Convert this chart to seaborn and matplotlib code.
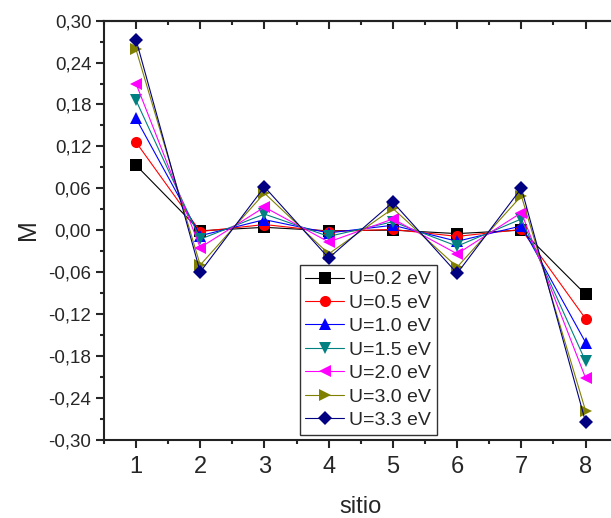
import numpy as np
import pandas as pd
import matplotlib
matplotlib.use("Agg")
import matplotlib.pyplot as plt
import seaborn as sns
from matplotlib.ticker import MultipleLocator, FuncFormatter

# sitios de la cadena
sitios = [1, 2, 3, 4, 5, 6, 7, 8]

etiquetas = ["U=0.2 eV", "U=0.5 eV", "U=1.0 eV", "U=1.5 eV",
             "U=2.0 eV", "U=3.0 eV", "U=3.3 eV"]

# magnetizacion M por sitio
m_u02 = [0.093, -0.001, 0.004, -0.001, 0.000, -0.005, 0.000, -0.092]
m_u05 = [0.126, -0.002, 0.008, -0.002, 0.001, -0.009, 0.001, -0.127]
m_u10 = [0.160, -0.008, 0.015, -0.004, 0.007, -0.016, 0.006, -0.161]
m_u15 = [0.186, -0.013, 0.023, -0.009, 0.012, -0.023, 0.016, -0.188]
m_u20 = [0.210, -0.025, 0.033, -0.017, 0.016, -0.034, 0.025, -0.212]
m_u30 = [0.259, -0.050, 0.053, -0.034, 0.031, -0.053, 0.049, -0.259]
m_u33 = [0.273, -0.060, 0.062, -0.040, 0.040, -0.062, 0.060, -0.275]

series = [m_u02, m_u05, m_u10, m_u15, m_u20, m_u30, m_u33]
colores = ["#000000", "#FF0000", "#0000FF", "#008080",
           "#FF00FF", "#808000", "#000080"]
marcadores = ["s", "o", "^", "v", "<", ">", "D"]

sns.set_style("ticks")
plt.rcParams["font.family"] = ["Liberation Sans", "DejaVu Sans"]

fig = plt.figure(figsize=(6.11, 5.18), dpi=100)
ax = fig.add_axes([0.170, 0.1515, 0.841, 0.8085])

for vals, lab, col, mk in zip(series, etiquetas, colores, marcadores):
    df = pd.DataFrame({"sitio": sitios, "M": vals})
    sns.lineplot(data=df, x="sitio", y="M", ax=ax, color=col, marker=mk,
                 markersize=8 if mk != "D" else 7.5, linewidth=0.8,
                 markeredgewidth=0, label=lab)

ax.set_xlim(0.5, 8.5)
ax.set_ylim(-0.30, 0.30)
ax.xaxis.set_major_locator(MultipleLocator(1))
ax.xaxis.set_minor_locator(MultipleLocator(0.5))
ax.yaxis.set_major_locator(MultipleLocator(0.06))
ax.yaxis.set_minor_locator(MultipleLocator(0.03))
ax.yaxis.set_major_formatter(FuncFormatter(lambda v, p: f"{v:.2f}".replace(".", ",")))

ax.tick_params(axis="x", which="major", direction="out", length=6, width=1.5,
               labelsize=17, pad=6)
ax.tick_params(axis="x", which="minor", direction="out", length=3, width=1.5)
ax.tick_params(axis="y", which="major", direction="out", length=6, width=1.5,
               labelsize=13.5, pad=3)
ax.tick_params(axis="y", which="minor", direction="out", length=3, width=1.5)

top = ax.secondary_xaxis("top")
top.xaxis.set_major_locator(MultipleLocator(1))
top.xaxis.set_minor_locator(MultipleLocator(0.5))
top.tick_params(which="major", direction="in", length=6, width=1.5, labeltop=False)
top.tick_params(which="minor", direction="in", length=3, width=1.5)

for s in ax.spines.values():
    s.set_linewidth(1.5)
    s.set_color("#222222")
top.spines["top"].set_linewidth(1.5)

ax.set_xlabel("sitio", fontsize=17, labelpad=13)
ax.set_ylabel("M", fontsize=18, labelpad=6)

leg = ax.legend(loc="lower left", bbox_to_anchor=(0.381, 0.011),
                borderaxespad=0, fontsize=14, frameon=True, fancybox=False,
                edgecolor="#333333", framealpha=1, handlelength=2.0,
                labelspacing=0.3, borderpad=0.3, handletextpad=0.25)
leg.get_frame().set_linewidth(1.0)

fig.savefig("out.png", dpi=100)
